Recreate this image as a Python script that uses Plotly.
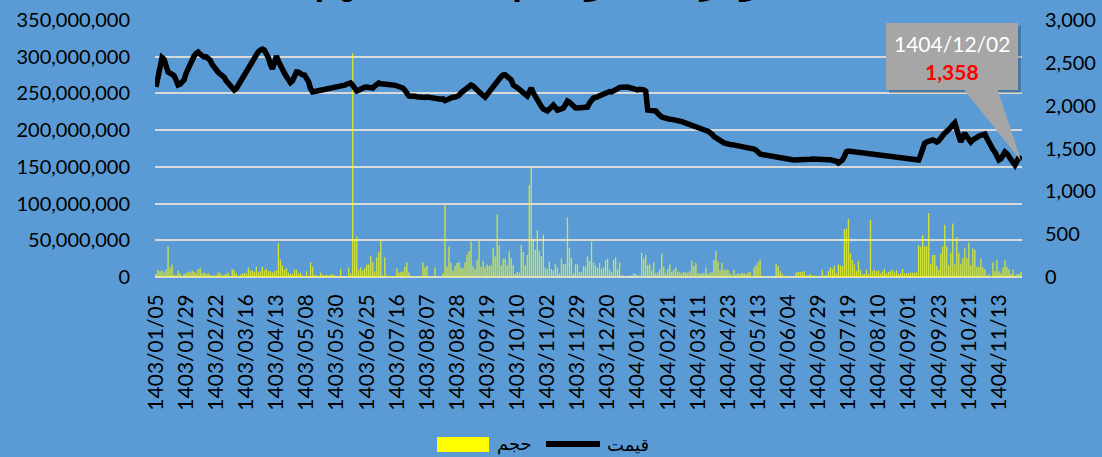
import plotly.graph_objects as go

# ---------------- data ----------------
price = [
    2218, 2330, 2450, 2560, 2540, 2460, 2393, 2380, 2365, 2350, 2300, 2241, 2250, 2280, 2300,
    2380, 2440, 2498, 2540, 2580, 2610, 2626, 2600, 2580, 2568, 2570, 2556, 2530, 2480, 2440,
    2416, 2390, 2370, 2358, 2330, 2290, 2260, 2230, 2210, 2183, 2200, 2240, 2280, 2320, 2358,
    2400, 2450, 2490, 2533, 2560, 2600, 2630, 2650, 2661, 2650, 2615, 2560, 2480, 2430, 2500,
    2580, 2520, 2460, 2416, 2380, 2340, 2300, 2270, 2290, 2350, 2393, 2390, 2370, 2360, 2358,
    2330, 2280, 2200, 2160, 2165, 2170, 2170, 2172, 2175, 2180, 2183, 2185, 2190, 2195, 2200,
    2210, 2218, 2225, 2230, 2240, 2250, 2255, 2265, 2240, 2190, 2171, 2180, 2195, 2210, 2215,
    2218, 2215, 2210, 2206, 2230, 2260, 2265, 2255, 2250, 2245, 2240, 2240, 2245, 2241, 2240,
    2235, 2230, 2220, 2206, 2180, 2140, 2113, 2110, 2115, 2110, 2105, 2100, 2105, 2100, 2095,
    2101, 2095, 2090, 2085, 2080, 2075, 2080, 2075, 2078, 2060, 2070, 2085, 2095, 2100, 2098,
    2101, 2120, 2150, 2170, 2183, 2200, 2220, 2241, 2230, 2200, 2180, 2160, 2140, 2120, 2101,
    2130, 2160, 2200, 2240, 2265, 2290, 2320, 2340, 2358, 2360, 2340, 2323, 2300, 2241, 2230,
    2210, 2190, 2170, 2150, 2130, 2113, 2160, 2206, 2150, 2101, 2060, 2020, 1990, 1960, 1940,
    1938, 1960, 1990, 2008, 1980, 1949, 1955, 1965, 1973, 2010, 2054, 2040, 2010, 1990, 1975,
    1973, 1975, 1980, 1982, 1984, 1984, 2030, 2070, 2089, 2095, 2105, 2115, 2124, 2135, 2150,
    2160, 2165, 2160, 2175, 2190, 2206, 2210, 2215, 2218, 2222, 2218, 2210, 2200, 2190, 2183,
    2185, 2190, 2194, 2185, 2170, 1949, 1945, 1942, 1940, 1938, 1910, 1885, 1868, 1860, 1850,
    1844, 1842, 1840, 1838, 1835, 1833, 1825, 1815, 1805, 1795, 1785, 1774, 1765, 1755, 1745,
    1739, 1732, 1725, 1718, 1710, 1702, 1693, 1670, 1640, 1620, 1611, 1595, 1580, 1565, 1553,
    1550, 1547, 1545, 1541, 1537, 1533, 1528, 1522, 1517, 1512, 1507, 1502, 1497, 1494, 1480,
    1455, 1436, 1430, 1425, 1420, 1415, 1412, 1410, 1405, 1401, 1395, 1390, 1380, 1377, 1375,
    1372, 1370, 1368, 1367, 1366, 1366, 1365, 1366, 1368, 1370, 1372, 1374, 1376, 1377, 1376,
    1375, 1374, 1372, 1371, 1370, 1369, 1368, 1367, 1366, 1350, 1331, 1340, 1366, 1410, 1460,
    1471, 1468, 1462, 1456, 1450, 1447, 1445, 1443, 1440, 1438, 1436, 1433, 1430, 1428, 1426,
    1424, 1420, 1418, 1415, 1412, 1410, 1407, 1404, 1401, 1398, 1395, 1392, 1389, 1386, 1383,
    1380, 1376, 1372, 1369, 1366, 1366, 1424, 1500, 1560, 1576, 1585, 1595, 1599, 1590, 1576,
    1590, 1625, 1658, 1680, 1700, 1716, 1745, 1775, 1798, 1720, 1658, 1576, 1630, 1681, 1640,
    1600, 1576, 1600, 1620, 1634, 1645, 1655, 1665, 1669, 1620, 1564, 1530, 1490, 1459, 1420,
    1366, 1380, 1420, 1459, 1440, 1412, 1380, 1340, 1307, 1350, 1401, 1358,
]

# trading volume, in millions of shares
volume_m = [
    4.5, 10, 8, 9, 6, 10, 42, 13, 17, 3, 2, 9, 5, 1, 4,
    5, 7, 6, 9, 7, 5, 11, 12, 5, 6, 4, 5, 3, 2, 2,
    2, 6, 5, 2, 3, 4, 6, 1, 11, 9, 5, 1, 3, 5, 5,
    5, 13, 9, 9, 7, 14, 6, 8, 14, 9, 11, 8, 8, 6, 8,
    9, 46, 24, 16, 10, 12, 6, 4, 4, 10, 10, 5, 6, 2, 1,
    8, 1, 20, 14, 3, 2, 1, 6, 3, 2, 3, 2, 3, 4, 2,
    1, 0.5, 11, 1, 0.5, 0.3, 13, 5, 305, 51, 55, 10, 13, 9, 12,
    17, 17, 29, 20, 8, 27, 34, 50, 2, 27, 2, 1, 1, 1, 1,
    12, 6, 7, 7, 14, 20, 6, 1, 1, 1, 0.5, 1, 1, 20, 13,
    15, 1, 1, 1, 13, 0.3, 0.3, 0.3, 5, 98, 14, 42, 19, 9, 15,
    19, 20, 13, 12, 20, 31, 35, 48, 15, 11, 23, 49, 14, 22, 13,
    17, 15, 16, 40, 28, 85, 43, 16, 25, 25, 16, 35, 26, 16, 4,
    7, 6, 44, 34, 16, 30, 125, 150, 52, 37, 64, 35, 28, 58, 13,
    11, 21, 11, 9, 18, 13, 5, 25, 17, 18, 81, 39, 26, 5, 17,
    17, 7, 7, 15, 14, 28, 22, 48, 20, 16, 12, 19, 11, 13, 23,
    25, 10, 7, 23, 27, 11, 20, 2, 2, 1, 1, 2, 2, 5, 4,
    2, 2, 33, 25, 30, 16, 17, 9, 20, 5, 6, 11, 32, 14, 5,
    11, 17, 7, 10, 13, 7, 6, 5, 7, 6, 6, 8, 22, 15, 19,
    5, 4, 5, 5, 13, 4, 6, 6, 23, 35, 21, 9, 19, 10, 10,
    10, 5, 2, 10, 3, 5, 4, 5, 5, 4, 6, 7, 1, 13, 16,
    20, 24, 1, 1, 0.5, 0.5, 0.5, 1, 0.5, 18, 15, 8, 4, 2, 1,
    0.5, 1, 0.5, 0.5, 6, 7, 7, 7, 8, 2, 2, 4, 1, 2, 1,
    0.5, 0.5, 10, 2, 2, 8, 13, 11, 15, 5, 17, 16, 15, 65, 66,
    79, 32, 23, 17, 8, 22, 10, 4, 4, 10, 4, 78, 8, 10, 8,
    9, 5, 8, 11, 5, 7, 8, 10, 6, 9, 4, 5, 11, 5, 5,
    5, 6, 6, 6, 6, 43, 41, 57, 42, 42, 87, 18, 30, 30, 15,
    10, 32, 42, 71, 42, 16, 33, 73, 17, 54, 33, 18, 26, 39, 26,
    47, 16, 39, 37, 14, 14, 25, 13, 11, 2, 4, 0.5, 20, 8, 23,
    8, 5, 13, 23, 14, 11, 4, 10, 2, 4, 4, 7,
]

tick_labels = [
    "1403/01/05", "1403/01/29", "1403/02/22", "1403/03/16", "1403/04/13",
    "1403/05/08", "1403/05/30", "1403/06/25", "1403/07/16", "1403/08/07",
    "1403/08/28", "1403/09/19", "1403/10/10", "1403/11/02", "1403/11/29",
    "1403/12/20", "1404/01/20", "1404/02/21", "1404/03/11", "1404/04/23",
    "1404/05/13", "1404/06/04", "1404/06/29", "1404/07/19", "1404/08/10",
    "1404/09/01", "1404/09/23", "1404/10/21", "1404/11/13",
]
label_step = 15
last_date = "1404/12/02"
series_names = ["حجم", "قیمت"]
title_text = "نمودار قیمت و حجم معاملات سهم"

assert len(price) == len(volume_m), (len(price), len(volume_m))
n = len(price)
x_idx = list(range(n))

# ---------------- geometry ----------------
W, H = 1102, 457
L, R, T, B = 155, 80, 20, 180
PW, PH = W - L - R, H - T - B


def px(p):
    return (p - L) / PW


def py(p):
    return (T + PH - p) / PH


BG = "#5b9bd5"
GRID = "#d9d9d9"
FONT = "Lato, Carlito, 'Open Sans', sans-serif"
FA_FONT = "'DejaVu Sans', 'Noto Sans', sans-serif"

fig = go.Figure()
fig.add_trace(go.Bar(
    x=x_idx, y=[v * 1e6 for v in volume_m], name=series_names[0],
    marker=dict(color="rgba(255,255,0,0.72)", line=dict(width=0)),
    yaxis="y", showlegend=False,
))
fig.add_trace(go.Scatter(
    x=x_idx, y=price, name=series_names[1], mode="lines",
    line=dict(color="black", width=5.5), yaxis="y2", showlegend=False,
))

last_x, last_p = x_idx[-1], price[-1]

shapes = [
    # callout shadow + box
    dict(type="rect", xref="paper", yref="paper", x0=px(889), x1=px(1021), y0=py(26), y1=py(93),
         fillcolor="rgba(0,0,0,0.22)", line=dict(width=0), layer="above"),
    dict(type="rect", xref="paper", yref="paper", x0=px(886), x1=px(1018), y0=py(23), y1=py(90),
         fillcolor="#a6a6a6", line=dict(width=0), layer="above"),
    # callout pointer to last point
    dict(type="path", xref="x", yref="y2",
         path=f"M {last_x - 28.7},2195 L {last_x - 11.8},2195 L {last_x},{last_p} Z",
         fillcolor="#a6a6a6", line=dict(width=0), layer="above"),
    # legend keys
    dict(type="rect", xref="paper", yref="paper", x0=px(437), x1=px(489), y0=py(452), y1=py(437),
         fillcolor="#ffff00", line=dict(width=0)),
    dict(type="line", xref="paper", yref="paper", x0=px(546), x1=px(600), y0=py(444), y1=py(444),
         line=dict(color="black", width=6)),
]

annotations = [
    dict(xref="paper", yref="paper", x=px(952), y=py(43), text=last_date, showarrow=False,
         font=dict(family=FONT, size=21, color="white"), xanchor="center", yanchor="middle"),
    dict(xref="paper", yref="paper", x=px(952), y=py(72), text=f"<b>{last_p:,}</b>", showarrow=False,
         font=dict(family=FONT, size=21, color="#ff0000"), xanchor="center", yanchor="middle"),
    dict(xref="paper", yref="paper", x=px(495), y=py(444), text=series_names[0], showarrow=False,
         font=dict(family=FA_FONT, size=18, color="black"), xanchor="left", yanchor="middle"),
    dict(xref="paper", yref="paper", x=px(605), y=py(444), text=series_names[1], showarrow=False,
         font=dict(family=FA_FONT, size=18, color="black"), xanchor="left", yanchor="middle"),
    dict(xref="paper", yref="paper", x=px(551), y=py(4), text=f"<b>{title_text}</b>", showarrow=False,
         font=dict(family=FA_FONT, size=28, color="black"), xanchor="center", yanchor="bottom"),
]

fig.update_layout(
    width=W, height=H,
    margin=dict(l=L, r=R, t=T, b=B, pad=0, autoexpand=False),
    paper_bgcolor=BG, plot_bgcolor=BG,
    bargap=0.35,
    font=dict(family=FONT, size=20, color="black"),
    xaxis=dict(
        range=[-0.5, n - 0.5], tickmode="array",
        tickvals=list(range(0, len(tick_labels) * label_step, label_step)),
        ticktext=tick_labels, tickangle=-90,
        tickfont=dict(family=FONT, size=21, color="black"),
        showgrid=False, zeroline=False, showline=False, ticks="",
        ticklabelstandoff=12, fixedrange=True, automargin=False,
    ),
    yaxis=dict(
        range=[0, 350e6], dtick=50e6, tickformat=",d",
        tickfont=dict(family=FONT, size=20, color="black"),
        showgrid=True, gridcolor=GRID, gridwidth=2,
        zeroline=True, zerolinecolor=GRID, zerolinewidth=2,
        showline=False, ticks="", ticklabelstandoff=24, automargin=False,
    ),
    yaxis2=dict(
        range=[0, 3000], dtick=500, tickformat=",d", overlaying="y", side="right",
        tickfont=dict(family=FONT, size=20, color="black"),
        showgrid=False, zeroline=False, showline=False, ticks="", ticklabelstandoff=22,
        automargin=False,
    ),
    shapes=shapes, annotations=annotations, showlegend=False,
)

fig.write_html(
    "out.html",
    config={"displayModeBar": False},
    post_script="document.body.style.margin='0';document.body.style.background='#5b9bd5';",
)
